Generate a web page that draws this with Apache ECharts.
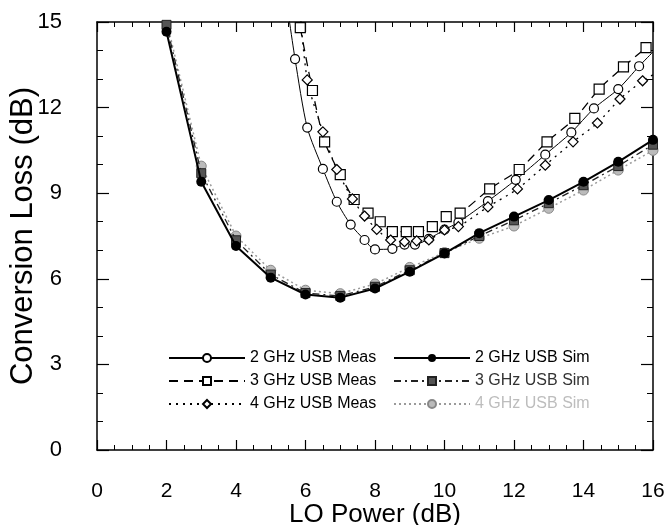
<!DOCTYPE html>
<html>
<head>
<meta charset="utf-8">
<script src="https://cdn.jsdelivr.net/npm/echarts@6/dist/echarts.min.js"></script>
<style>html,body{margin:0;padding:0;background:#fff}#c{width:666px;height:525px}</style>
</head>
<body>
<div id="c"></div>
<script>
// ---- data ----
const xTicks = [0, 2, 4, 6, 8, 10, 12, 14, 16];
const yTicks = [0, 3, 6, 9, 12, 15];

const xMeas2 = [5.4, 5.7, 6.05, 6.5, 6.9, 7.3, 7.7, 8.0, 8.5, 8.85, 9.15, 9.55, 10.0, 10.4, 11.25, 12.05, 12.9, 13.65, 14.3, 15.0, 15.6, 16.0];
const meas2  = [16.2, 13.7, 11.3, 9.85, 8.7, 7.9, 7.36, 7.03, 7.05, 7.2, 7.2, 7.4, 7.72, 7.98, 8.72, 9.47, 10.35, 11.13, 11.97, 12.65, 13.45, 13.95];
const meas2Hidden = [0, 21]; // line continues past these, no marker drawn

const xMeas3 = [5.85, 6.2, 6.55, 7.0, 7.4, 7.8, 8.15, 8.5, 8.9, 9.25, 9.65, 10.05, 10.45, 11.3, 12.15, 12.95, 13.75, 14.45, 15.15, 15.8];
const meas3  = [14.8, 12.6, 10.8, 9.65, 8.78, 8.3, 8.0, 7.65, 7.65, 7.65, 7.83, 8.18, 8.3, 9.15, 9.83, 10.8, 11.62, 12.65, 13.43, 14.1];

const xMeas4 = [5.8, 6.05, 6.5, 6.9, 7.35, 7.7, 8.05, 8.45, 8.85, 9.2, 9.55, 10.0, 10.4, 11.25, 12.1, 12.9, 13.7, 14.4, 15.05, 15.7, 16.0];
const meas4  = [16.0, 12.97, 11.15, 9.83, 8.8, 8.2, 7.73, 7.36, 7.3, 7.33, 7.36, 7.71, 7.83, 8.52, 9.15, 9.98, 10.8, 11.46, 12.3, 12.94, 13.15];
const meas4Hidden = [0, 20];

const xSim = [2, 3, 4, 5, 6, 7, 8, 9, 10, 11, 12, 13, 14, 15, 16];
const sim2 = [14.66, 9.4, 7.15, 6.04, 5.45, 5.34, 5.66, 6.25, 6.89, 7.6, 8.18, 8.76, 9.4, 10.1, 10.87];
const sim3 = [14.9, 9.7, 7.35, 6.15, 5.5, 5.4, 5.72, 6.3, 6.9, 7.5, 8.05, 8.65, 9.28, 9.95, 10.7];
const sim4 = [15.05, 9.95, 7.5, 6.3, 5.6, 5.48, 5.82, 6.4, 6.92, 7.42, 7.85, 8.47, 9.11, 9.81, 10.5];

const names = ['2 GHz USB Meas', '3 GHz USB Meas', '4 GHz USB Meas', '2 GHz USB Sim', '3 GHz USB Sim', '4 GHz USB Sim'];

function pts(xs, ys, hidden) {
  return xs.map((x, i) => (hidden && hidden.indexOf(i) >= 0)
    ? { value: [x, ys[i]], symbol: 'none' }
    : [x, ys[i]]);
}

const FONT = '"Liberation Sans", Arial, Helvetica, sans-serif';

const chart = echarts.init(document.getElementById('c'), null, { renderer: 'canvas' });

const baseX = {
  type: 'value', min: 0, max: 16, interval: 2,
  axisLine: { show: true, onZero: false, lineStyle: { color: '#000', width: 1.5 } },
  axisTick: { show: true, inside: true, length: 10, lineStyle: { color: '#000', width: 1.2 } },
  minorTick: { show: true, splitNumber: 4, length: 5, lineStyle: { color: '#000', width: 1 } },
  splitLine: { show: false },
};
const baseY = {
  type: 'value', min: 0, max: 15, interval: 3,
  axisLine: { show: true, onZero: false, lineStyle: { color: '#000', width: 1.5 } },
  axisTick: { show: true, inside: true, length: 12, lineStyle: { color: '#000', width: 1.2 } },
  minorTick: { show: true, splitNumber: 3, length: 6, lineStyle: { color: '#000', width: 1 } },
  splitLine: { show: false },
};

chart.setOption({
  animation: false,
  backgroundColor: '#fff',
  grid: { left: 97, right: 13, top: 22, bottom: 75, containLabel: false, outerBoundsMode: 'none' },
  xAxis: [
    Object.assign({}, baseX, {
      position: 'bottom',
      axisLabel: { show: true, color: '#000', fontSize: 21, fontFamily: FONT, margin: 31,
        formatter: v => xTicks.indexOf(v) >= 0 ? String(v) : '' },
      name: 'LO Power (dB)', nameLocation: 'middle', nameGap: 52, nameMoveOverlap: false,
      nameTextStyle: { color: '#000', fontSize: 26, fontFamily: FONT }
    }),
    Object.assign({}, baseX, { position: 'top', axisLabel: { show: false } })
  ],
  yAxis: [
    Object.assign({}, baseY, {
      position: 'left',
      axisLabel: { show: true, color: '#000', fontSize: 22, fontFamily: FONT, margin: 35,
        formatter: v => yTicks.indexOf(v) >= 0 ? String(v) : '' },
      name: 'Conversion Loss (dB)', nameLocation: 'middle', nameGap: 58, nameMoveOverlap: false,
      nameTextStyle: { color: '#000', fontSize: 31, fontFamily: FONT }
    }),
    Object.assign({}, baseY, { position: 'right', axisLabel: { show: false } })
  ],
  legend: [
    {
      orient: 'vertical', left: 163, top: 345, itemWidth: 76, itemHeight: 10, itemGap: 7,
      textStyle: { color: '#000', fontSize: 16, fontFamily: FONT, lineHeight: 16 },
      data: [names[0], names[1], names[2]]
    },
    {
      orient: 'vertical', left: 388, top: 345, itemWidth: 76, itemHeight: 10, itemGap: 7,
      textStyle: { color: '#000', fontSize: 16, fontFamily: FONT, lineHeight: 16 },
      data: [
        { name: names[3] },
        { name: names[4], textStyle: { color: '#333' } },
        { name: names[5], textStyle: { color: '#bdbdbd' } }
      ]
    }
  ],
  series: [
    {
      name: names[0], type: 'line', data: pts(xMeas2, meas2, meas2Hidden), smooth: 0.25,
      symbol: 'circle', symbolSize: 9, z: 3,
      lineStyle: { color: '#000', width: 1 },
      itemStyle: { color: '#fff', borderColor: '#000', borderWidth: 1.2 }
    },
    {
      name: names[1], type: 'line', data: pts(xMeas3, meas3), smooth: 0.25,
      symbol: 'rect', symbolSize: 10, z: 3,
      lineStyle: { color: '#000', width: 1.3, type: [9, 6] },
      itemStyle: { color: '#fff', borderColor: '#000', borderWidth: 1.2 }
    },
    {
      name: names[2], type: 'line', data: pts(xMeas4, meas4, meas4Hidden), smooth: 0.25,
      symbol: 'diamond', symbolSize: 10, z: 3,
      lineStyle: { color: '#000', width: 1.3, type: [2, 5] },
      itemStyle: { color: '#fff', borderColor: '#000', borderWidth: 1.2 }
    },
    {
      name: names[3], type: 'line', data: pts(xSim, sim2),
      symbol: 'circle', symbolSize: 10, z: 4,
      lineStyle: { color: '#000', width: 2 },
      itemStyle: { color: '#000', borderColor: '#000', borderWidth: 0 }
    },
    {
      name: names[4], type: 'line', data: pts(xSim, sim3),
      symbol: 'rect', symbolSize: 9, z: 2,
      lineStyle: { color: '#222', width: 1.3, type: [7, 4, 2, 4] },
      itemStyle: { color: '#555', borderColor: '#222', borderWidth: 1 }
    },
    {
      name: names[5], type: 'line', data: pts(xSim, sim4),
      symbol: 'circle', symbolSize: 10, z: 1,
      lineStyle: { color: '#9a9a9a', width: 1.5, type: [2, 3] },
      itemStyle: { color: '#bbb', borderColor: '#888', borderWidth: 1 }
    }
  ]
});
</script>
</body>
</html>
